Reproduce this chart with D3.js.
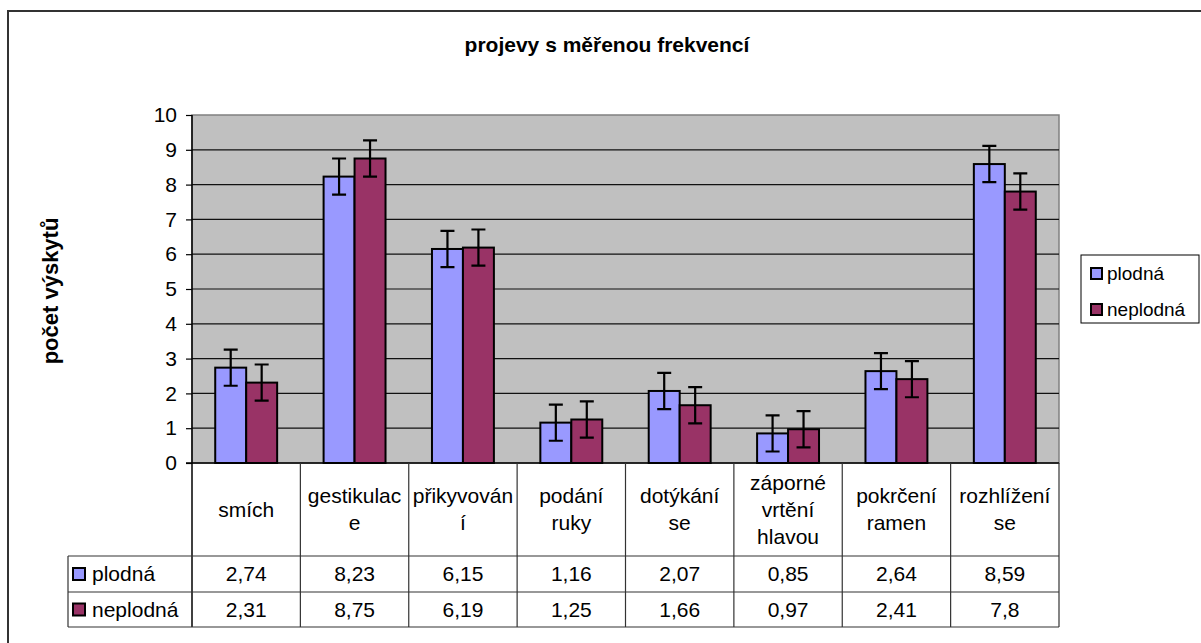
<!DOCTYPE html>
<html>
<head>
<meta charset="utf-8">
<script src="https://cdn.jsdelivr.net/npm/d3@7"></script>
<style>
  body { margin: 0; background: #fff; }
  text { font-family: "Liberation Sans", Arial, sans-serif; fill: #000; }
</style>
</head>
<body>
<div id="chart"></div>
<script>
// chart data
const title = "projevy s měřenou frekvencí";
const yLabel = "počet výskytů";
const categories = ["smích", "gestikulac\ne", "přikyvován\ní", "podání\nruky", "dotýkání\nse", "záporné\nvrtění\nhlavou", "pokrčení\nramen", "rozhlížení\nse"];
const seriesNames = ["plodná", "neplodná"];
const plodna = [2.74, 8.23, 6.15, 1.16, 2.07, 0.85, 2.64, 8.59];
const neplodna = [2.31, 8.75, 6.19, 1.25, 1.66, 0.97, 2.41, 7.8];
const errPlodna = [0.52, 0.52, 0.52, 0.52, 0.52, 0.52, 0.52, 0.52];
const errNeplodna = [0.52, 0.52, 0.52, 0.52, 0.52, 0.52, 0.52, 0.52];
const yTicks = [0, 1, 2, 3, 4, 5, 6, 7, 8, 9, 10];
const colors = ["#9999ff", "#993366"];

const W = 1201, H = 643;
const plot = {left: 192, right: 1059, top: 115, bottom: 463};
const rowLines = [556, 592, 627];
const tableLeft = 68;

const svg = d3.select("#chart").append("svg")
    .attr("width", W).attr("height", H);

svg.append("rect").attr("width", W).attr("height", H).attr("fill", "#fff");

// outer frame
svg.append("path")
    .attr("d", "M8," + H + "V11H" + W)
    .attr("fill", "none").attr("stroke", "#333").attr("stroke-width", 2);

const series = [plodna, neplodna];
const errs = [errPlodna, errNeplodna];

let x0 = d3.scaleBand().domain(categories).range([plot.left, plot.right]).padding(0);
let barW = x0.bandwidth() / 3.5;
let x1 = d3.scaleBand().domain(seriesNames)
    .range([barW * 0.75, x0.bandwidth() - barW * 0.75]).padding(0);
let y = d3.scaleLinear().domain([0, 10]).range([plot.bottom, plot.top]);

// plot background
svg.append("rect")
    .attr("x", plot.left).attr("y", plot.top)
    .attr("width", plot.right - plot.left).attr("height", plot.bottom - plot.top)
    .attr("fill", "#c0c0c0").attr("stroke", "#808080").attr("stroke-width", 1.5);

// grid lines
svg.selectAll(".grid").data(yTicks.slice(1, -1)).enter().append("line")
    .attr("class", "grid")
    .attr("x1", plot.left).attr("x2", plot.right)
    .attr("y1", d => y(d)).attr("y2", d => y(d))
    .attr("stroke", "#111").attr("stroke-width", 1.2);

// y axis
let yAxis = svg.append("g")
    .attr("transform", "translate(" + plot.left + ",0)")
    .call(d3.axisLeft(y).tickValues(yTicks).tickSize(6).tickPadding(9));
yAxis.select(".domain").remove();
yAxis.selectAll("line").attr("stroke", "#000").attr("stroke-width", 1.2);
yAxis.selectAll("text").style("font-size", "21px")
    .style("font-family", "Liberation Sans, Arial, sans-serif");

// bars
let groups = svg.selectAll(".cat").data(categories).enter().append("g")
    .attr("class", "cat")
    .attr("transform", d => "translate(" + x0(d) + ",0)");

groups.each(function(c, i) {
    let g = d3.select(this);
    seriesNames.forEach((s, j) => {
        let v = series[j][i];
        g.append("rect")
            .attr("x", x1(s)).attr("y", y(v))
            .attr("width", x1.bandwidth()).attr("height", y(0) - y(v))
            .attr("fill", colors[j]).attr("stroke", "#000").attr("stroke-width", 2);
    });
    seriesNames.forEach((s, j) => {
        let v = series[j][i], e = errs[j][i];
        let cx = x1(s) + x1.bandwidth() / 2;
        g.append("path")
            .attr("d", "M" + cx + "," + y(v + e) + "V" + y(v - e) +
                       "M" + (cx - 7) + "," + y(v + e) + "H" + (cx + 7) +
                       "M" + (cx - 7) + "," + y(v - e) + "H" + (cx + 7))
            .attr("fill", "none").attr("stroke", "#000").attr("stroke-width", 2.2);
    });
});

// axes lines
svg.append("line")
    .attr("x1", plot.left).attr("x2", plot.left)
    .attr("y1", plot.top).attr("y2", rowLines[2])
    .attr("stroke", "#000").attr("stroke-width", 1.5);
svg.append("line")
    .attr("x1", plot.left - 6).attr("x2", plot.right)
    .attr("y1", plot.bottom).attr("y2", plot.bottom)
    .attr("stroke", "#000").attr("stroke-width", 1.5);

// data table
let tableColor = "#333";
categories.forEach((c, i) => {
    svg.append("line")
        .attr("x1", x0(c) + x0.bandwidth()).attr("x2", x0(c) + x0.bandwidth())
        .attr("y1", plot.bottom).attr("y2", rowLines[2])
        .attr("stroke", tableColor).attr("stroke-width", 1.2);
});
rowLines.forEach(r => {
    svg.append("line")
        .attr("x1", tableLeft).attr("x2", plot.right)
        .attr("y1", r).attr("y2", r)
        .attr("stroke", tableColor).attr("stroke-width", 1.2);
});
svg.append("line")
    .attr("x1", tableLeft).attr("x2", tableLeft)
    .attr("y1", rowLines[0]).attr("y2", rowLines[2])
    .attr("stroke", tableColor).attr("stroke-width", 1.2);

// header labels
let headerMid = (plot.bottom + rowLines[0]) / 2;
categories.forEach(c => {
    let lines = c.split("\n");
    let lh = 27;
    let t = svg.append("text")
        .attr("text-anchor", "middle")
        .style("font-size", "21px");
    lines.forEach((ln, k) => {
        t.append("tspan")
            .attr("x", x0(c) + x0.bandwidth() / 2)
            .attr("y", headerMid + (k - (lines.length - 1) / 2) * lh)
            .attr("dy", "0.35em")
            .text(ln);
    });
});

// values rows
seriesNames.forEach((s, j) => {
    let mid = (rowLines[j] + rowLines[j + 1]) / 2;
    svg.append("rect")
        .attr("x", 73).attr("y", mid - 6)
        .attr("width", 12).attr("height", 12)
        .attr("fill", colors[j]).attr("stroke", "#000").attr("stroke-width", 2);
    svg.append("text")
        .attr("x", 92).attr("y", mid).attr("dy", "0.35em")
        .style("font-size", "21px")
        .text(s);
    categories.forEach((c, i) => {
        svg.append("text")
            .attr("x", x0(c) + x0.bandwidth() / 2).attr("y", mid).attr("dy", "0.35em")
            .attr("text-anchor", "middle")
            .style("font-size", "21px")
            .text(String(series[j][i]).replace(".", ","));
    });
});

// legend
let legend = svg.append("g").attr("transform", "translate(1081,255)");
legend.append("rect")
    .attr("width", 118).attr("height", 68)
    .attr("fill", "#fff").attr("stroke", "#000").attr("stroke-width", 1);
seriesNames.forEach((s, j) => {
    let cy = 18 + j * 36;
    legend.append("rect")
        .attr("x", 10).attr("y", cy - 5)
        .attr("width", 11).attr("height", 11)
        .attr("fill", colors[j]).attr("stroke", "#000").attr("stroke-width", 2);
    legend.append("text")
        .attr("x", 26).attr("y", cy).attr("dy", "0.35em")
        .style("font-size", "19px")
        .text(s);
});

// title and axis label
svg.append("text")
    .attr("x", 607).attr("y", 45).attr("dy", "0.35em")
    .attr("text-anchor", "middle")
    .style("font-size", "21px").style("font-weight", "bold")
    .text(title);

svg.append("text")
    .attr("transform", "translate(50," + ((plot.top + plot.bottom) / 2 + 2) + ") rotate(-90)")
    .attr("dy", "0.35em")
    .attr("text-anchor", "middle")
    .style("font-size", "22px").style("font-weight", "bold")
    .text(yLabel);
</script>
</body>
</html>
